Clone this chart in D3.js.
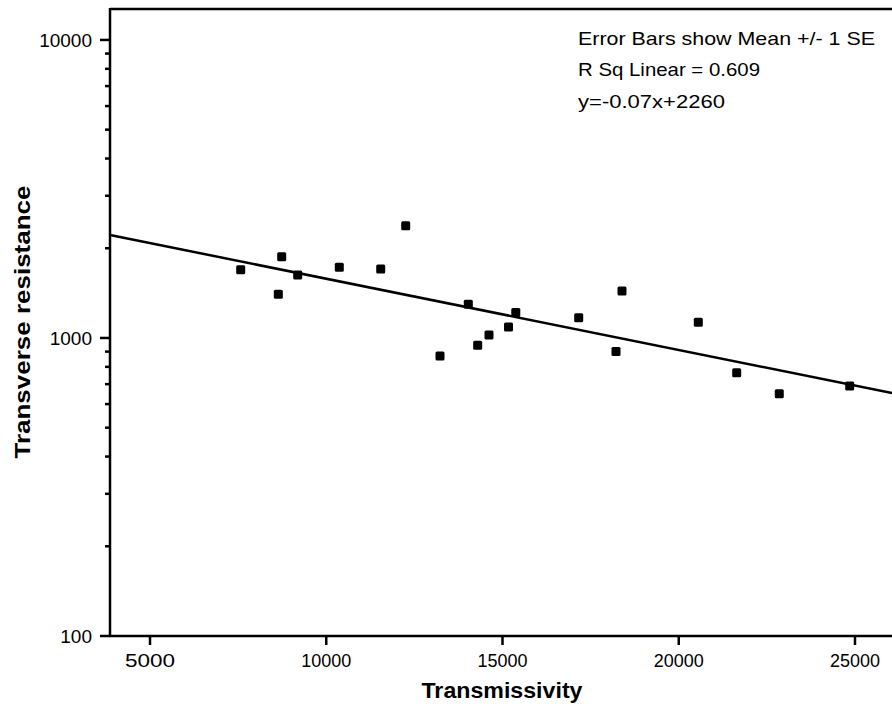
<!DOCTYPE html>
<html>
<head>
<meta charset="utf-8">
<script src="https://cdn.jsdelivr.net/npm/d3@7"></script>
<style>
  html, body { margin: 0; padding: 0; background: #fff; }
  text { font-family: "Liberation Sans", Arial, sans-serif; fill: #000; }
</style>
</head>
<body>
<div id="chart"></div>
<script>
// Transmissivity vs transverse resistance (log y)
const transmissivity = [7573, 8640, 8736, 9190, 10370, 11545, 12254, 13227, 14030, 14296,
                        14617, 15170, 15377, 17162, 18220, 18390, 20555, 21644, 22852, 24850];
const resistance     = [1695, 1402, 1874, 1627, 1727, 1704, 2381, 870, 1297, 945,
                        1023, 1089, 1218, 1170, 900, 1438, 1129, 765, 650, 690];

// fitted line, ends at the plot edges
const fitX = [3865, 26050];
const fitY = [2216, 653];

const xTicks = [5000, 10000, 15000, 20000, 25000];
const yMajor = [100, 1000, 10000];
const yMinor = [200, 300, 400, 500, 600, 700, 800, 900,
                2000, 3000, 4000, 5000, 6000, 7000, 8000, 9000];

const notes = ["Error Bars show Mean +/- 1 SE", "R Sq Linear = 0.609", "y=-0.07x+2260"];

const W = 892, H = 710;
const L = 110, R = 892, T = 9, B = 636;

const x = d3.scaleLinear().domain([3865, 26050]).range([L, R]);
const y = d3.scaleLog().domain([100, 12700]).range([B, T]);

const svg = d3.select("#chart").append("svg")
  .attr("width", W).attr("height", H)
  .style("display", "block");
svg.append("rect").attr("width", W).attr("height", H).attr("fill", "#fff");

// frame: top border + axes
svg.append("line").attr("x1", L).attr("x2", R).attr("y1", T).attr("y2", T)
  .attr("stroke", "#000").attr("stroke-width", 2.5);

// y axis with log ticks
const yAxis = svg.append("g").attr("transform", `translate(${L},0)`);
yAxis.append("line").attr("y1", T - 1).attr("y2", B + 1).attr("stroke", "#000").attr("stroke-width", 2.5);
yAxis.selectAll(".maj").data(yMajor).join("line").attr("class", "maj")
  .attr("x1", -10).attr("x2", 0).attr("y1", d => y(d)).attr("y2", d => y(d))
  .attr("stroke", "#000").attr("stroke-width", 2.5);
yAxis.selectAll(".min").data(yMinor).join("line").attr("class", "min")
  .attr("x1", -5).attr("x2", 0).attr("y1", d => y(d)).attr("y2", d => y(d))
  .attr("stroke", "#000").attr("stroke-width", 2.5);
yAxis.selectAll("text").data(yMajor).join("text")
  .attr("x", -18).attr("y", d => y(d) + 7)
  .attr("text-anchor", "end").attr("font-size", 19)
  .text(d => d);

// x axis
const xAxis = svg.append("g").attr("transform", `translate(0,${B})`);
xAxis.append("line").attr("x1", L - 1).attr("x2", R).attr("stroke", "#000").attr("stroke-width", 2.5);
xAxis.selectAll("line.tk").data(xTicks).join("line").attr("class", "tk")
  .attr("x1", d => x(d)).attr("x2", d => x(d)).attr("y1", 0).attr("y2", 9)
  .attr("stroke", "#000").attr("stroke-width", 2.5);
xAxis.selectAll("text").data(xTicks).join("text")
  .attr("x", d => x(d)).attr("y", 31)
  .attr("text-anchor", "middle").attr("font-size", 19)
  .attr("textLength", 50).attr("lengthAdjust", "spacingAndGlyphs")
  .text(d => d);

// axis titles
svg.append("text")
  .attr("x", 502).attr("y", 698)
  .attr("text-anchor", "middle").attr("font-size", 22).attr("font-weight", "bold")
  .attr("textLength", 161).attr("lengthAdjust", "spacingAndGlyphs")
  .text("Transmissivity");
svg.append("text")
  .attr("transform", "translate(30,322) rotate(-90)")
  .attr("text-anchor", "middle").attr("font-size", 22).attr("font-weight", "bold")
  .attr("textLength", 273).attr("lengthAdjust", "spacingAndGlyphs")
  .text("Transverse resistance");

// regression line
svg.append("line")
  .attr("x1", x(fitX[0])).attr("y1", y(fitY[0]))
  .attr("x2", x(fitX[1])).attr("y2", y(fitY[1]))
  .attr("stroke", "#000").attr("stroke-width", 2.5);

// points
const pts = transmissivity.map((t, i) => [t, resistance[i]]);
svg.append("g").selectAll("rect").data(pts).join("rect")
  .attr("x", d => x(d[0]) - 4.5).attr("y", d => y(d[1]) - 4.5)
  .attr("width", 9).attr("height", 9).attr("rx", 1.5)
  .attr("fill", "#000");

// annotation block
const noteLen = [297, 182, 147];
const noteY = [45, 76, 108];
svg.append("g").selectAll("text").data(notes).join("text")
  .attr("x", 578).attr("y", (d, i) => noteY[i])
  .attr("font-size", 19)
  .attr("textLength", (d, i) => noteLen[i]).attr("lengthAdjust", "spacingAndGlyphs")
  .text(d => d);
</script>
</body>
</html>
